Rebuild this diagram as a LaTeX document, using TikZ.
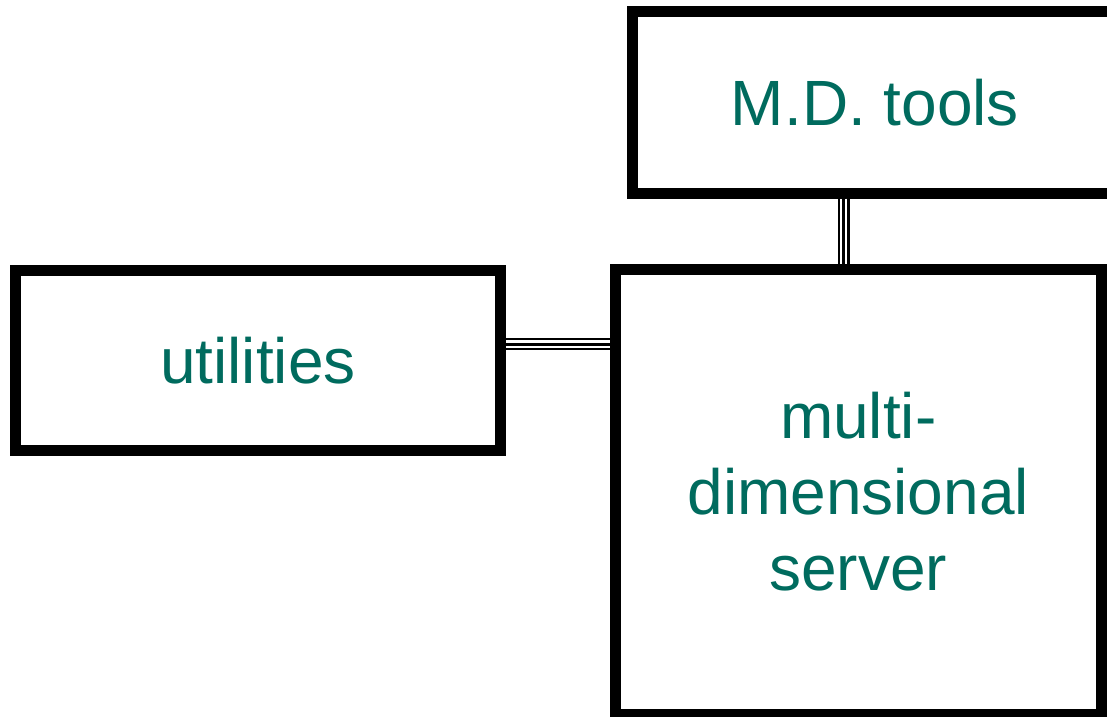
\documentclass[tikz,border=0pt]{standalone}
\usepackage{fontspec}
\setmainfont{Liberation Sans}
\definecolor{labelteal}{RGB}{0,107,94}
\begin{document}
\begin{tikzpicture}[x=1pt,y=-1pt,
  box/.style={draw=black, line width=11pt, inner sep=0pt, rectangle,
    font=\fontsize{64}{76}\selectfont, text=labelteal, align=center},
  tripleline/.style={line width=12pt, draw=black,
    postaction={draw=white, line width=7.5pt},
    postaction={draw=black, line width=3pt}}]
\useasboundingbox (0,0) rectangle (1107,716);
\clip (0,0) rectangle (1107,716);
\node[box, minimum width=485pt, minimum height=180.5pt] (util) at (258,360.25) {utilities};
\node[box, minimum width=485.5pt, minimum height=445pt] (srv) at (858.25,492) {multi-\\dimensional\\server};
\node[box, minimum width=485pt, minimum height=181.5pt] (md) at (875,102.25) {M.D. tools};
\coordinate (hy) at (0,344);
\coordinate (vx) at (843.5,0);
\draw[tripleline] (util.east |- hy) -- (srv.west |- hy);
\draw[tripleline] (md.south -| vx) -- (srv.north -| vx);
\end{tikzpicture}
\end{document}
